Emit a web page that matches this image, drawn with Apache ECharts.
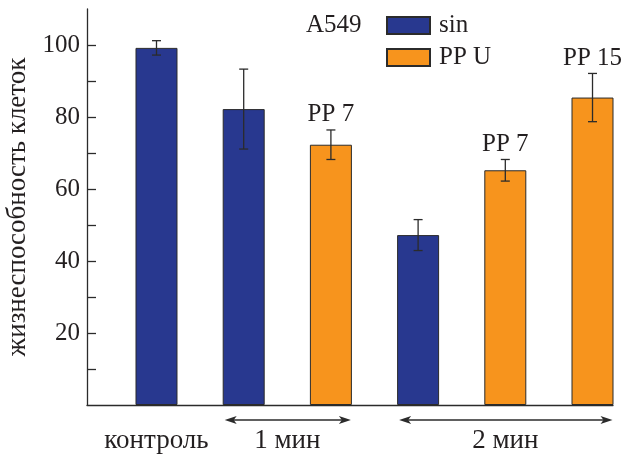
<!DOCTYPE html>
<html>
<head>
<meta charset="utf-8">
<script src="https://cdn.jsdelivr.net/npm/echarts@6/dist/echarts.min.js"></script>
<style>
  html, body { margin: 0; padding: 0; background: #fff; }
  #chart { width: 624px; height: 456px; }
</style>
</head>
<body>
<div id="chart"></div>
<script>
// A549 cell viability after treatment (mean ± error)
const positions = [1, 2, 3, 4, 5, 6];
const viability = [99.2, 82.2, 72.3, 47.2, 65.2, 85.4];
const errors = [2.0, 11.1, 4.1, 4.3, 3.0, 6.7];
const treatment = ['sin', 'sin', 'PP U', 'sin', 'PP U', 'PP U'];
const barNotes = ['', '', 'PP 7', '', 'PP 7', 'PP 15'];
const seriesNames = ['sin', 'PP U'];
const groupNames = ['контроль', '1 мин', '2 мин'];
const groupFrom = [1, 2, 4];
const groupTo = [1, 3, 6];
const yTickValues = [10, 20, 30, 40, 50, 60, 70, 80, 90, 100];
const yLabelValues = [20, 40, 60, 80, 100];

const FONT = '"Liberation Serif", "DejaVu Serif", serif';
const INK = '#231f20';
const LINE = '#2b2b2b';
const COLORS = { 'sin': '#28388f', 'PP U': '#f7941d' };
const BAR_WIDTH = 42;
const LATIN_SIZE = 25;
const CYR_SIZE = 27;

const chart = echarts.init(document.getElementById('chart'));

const barSeries = seriesNames.map(name => ({
  name: name,
  type: 'bar',
  barWidth: BAR_WIDTH,
  barGap: '-100%',
  itemStyle: { color: COLORS[name], borderColor: LINE, borderWidth: 1 },
  data: positions
    .map((x, i) => treatment[i] === name ? [x, viability[i]] : null)
    .filter(d => d !== null),
  z: 2
}));

// error whiskers plus the short note above some bars
const errorSeries = {
  type: 'custom',
  z: 5,
  clip: false,
  data: positions.map((x, i) => [x, viability[i], errors[i]]),
  renderItem(params, api) {
    const x = api.value(0), y = api.value(1), e = api.value(2);
    const top = api.coord([x, y + e]);
    const bot = api.coord([x, y - e]);
    const cap = 4.5;
    const st = { stroke: LINE, lineWidth: 1.3 };
    const children = [
      { type: 'line', shape: { x1: top[0], y1: top[1], x2: bot[0], y2: bot[1] }, style: st },
      { type: 'line', shape: { x1: top[0] - cap, y1: top[1], x2: top[0] + cap, y2: top[1] }, style: st },
      { type: 'line', shape: { x1: bot[0] - cap, y1: bot[1], x2: bot[0] + cap, y2: bot[1] }, style: st }
    ];
    const note = barNotes[params.dataIndex];
    if (note) {
      children.push({
        type: 'text',
        style: {
          text: note, x: top[0], y: top[1] - 3,
          align: 'center', verticalAlign: 'bottom',
          font: LATIN_SIZE + 'px ' + FONT, fill: INK
        }
      });
    }
    return { type: 'group', children };
  }
};

// group captions under the axis, with double arrows spanning the grouped bars
const groupSeries = {
  type: 'custom',
  z: 5,
  clip: false,
  silent: true,
  data: groupNames.map((g, i) => [groupFrom[i], groupTo[i], i]),
  renderItem(params, api) {
    const a = api.coord([api.value(0), 0]);
    const b = api.coord([api.value(1), 0]);
    const half = BAR_WIDTH / 2;
    const left = a[0] - half + 2;
    const right = b[0] + half - 1;
    const yArrow = a[1] + 15;
    const st = { stroke: LINE, lineWidth: 1.3 };
    const children = [];
    if (api.value(0) !== api.value(1)) {
      const hl = 12, hw = 4;
      children.push(
        { type: 'line', shape: { x1: left + 4, y1: yArrow, x2: right - 4, y2: yArrow }, style: st },
        { type: 'polygon', shape: { points: [[left, yArrow], [left + hl, yArrow - hw], [left + hl - 3, yArrow], [left + hl, yArrow + hw]] }, style: { fill: LINE } },
        { type: 'polygon', shape: { points: [[right, yArrow], [right - hl, yArrow - hw], [right - hl + 3, yArrow], [right - hl, yArrow + hw]] }, style: { fill: LINE } }
      );
    }
    children.push({
      type: 'text',
      style: {
        text: groupNames[params.dataIndex],
        x: (a[0] + b[0]) / 2, y: a[1] + 36,
        align: 'center', verticalAlign: 'middle',
        font: CYR_SIZE + 'px ' + FONT, fill: INK
      }
    });
    return { type: 'group', children };
  }
};

chart.setOption({
  animation: false,
  backgroundColor: '#fff',
  textStyle: { fontFamily: FONT, color: INK },
  title: {
    text: 'A549',
    left: 301, top: 8,
    textStyle: { fontFamily: FONT, fontSize: LATIN_SIZE, fontWeight: 'normal', color: INK }
  },
  legend: {
    data: seriesNames,
    orient: 'vertical',
    left: 381, top: 8,
    itemWidth: 43, itemHeight: 17, itemGap: 7,
    icon: 'rect',
    textStyle: { fontFamily: FONT, fontSize: LATIN_SIZE, color: INK, padding: [0, 0, 0, 4] }
  },
  grid: { left: 87, right: 11, top: 9, bottom: 51, containLabel: false, outerBoundsMode: 'none' },
  xAxis: {
    type: 'value',
    min: 0.203, max: 6.235,
    axisLine: { lineStyle: { color: LINE, width: 1.3 } },
    axisTick: { show: false },
    axisLabel: { show: false },
    splitLine: { show: false }
  },
  yAxis: {
    type: 'value',
    min: 0, max: 110, interval: 10,
    name: 'жизнеспособность клеток',
    nameLocation: 'middle',
    nameRotate: 90,
    nameGap: 54,
    nameTextStyle: { fontFamily: FONT, fontSize: CYR_SIZE, color: INK },
    axisLine: { show: true, lineStyle: { color: LINE, width: 1.3 } },
    axisTick: { show: true, inside: true, length: 9, customValues: yTickValues, lineStyle: { color: LINE, width: 1.3 } },
    axisLabel: { customValues: yLabelValues, margin: 7, fontFamily: FONT, fontSize: LATIN_SIZE, color: INK },
    splitLine: { show: false }
  },
  series: [...barSeries, errorSeries, groupSeries]
});
</script>
</body>
</html>
